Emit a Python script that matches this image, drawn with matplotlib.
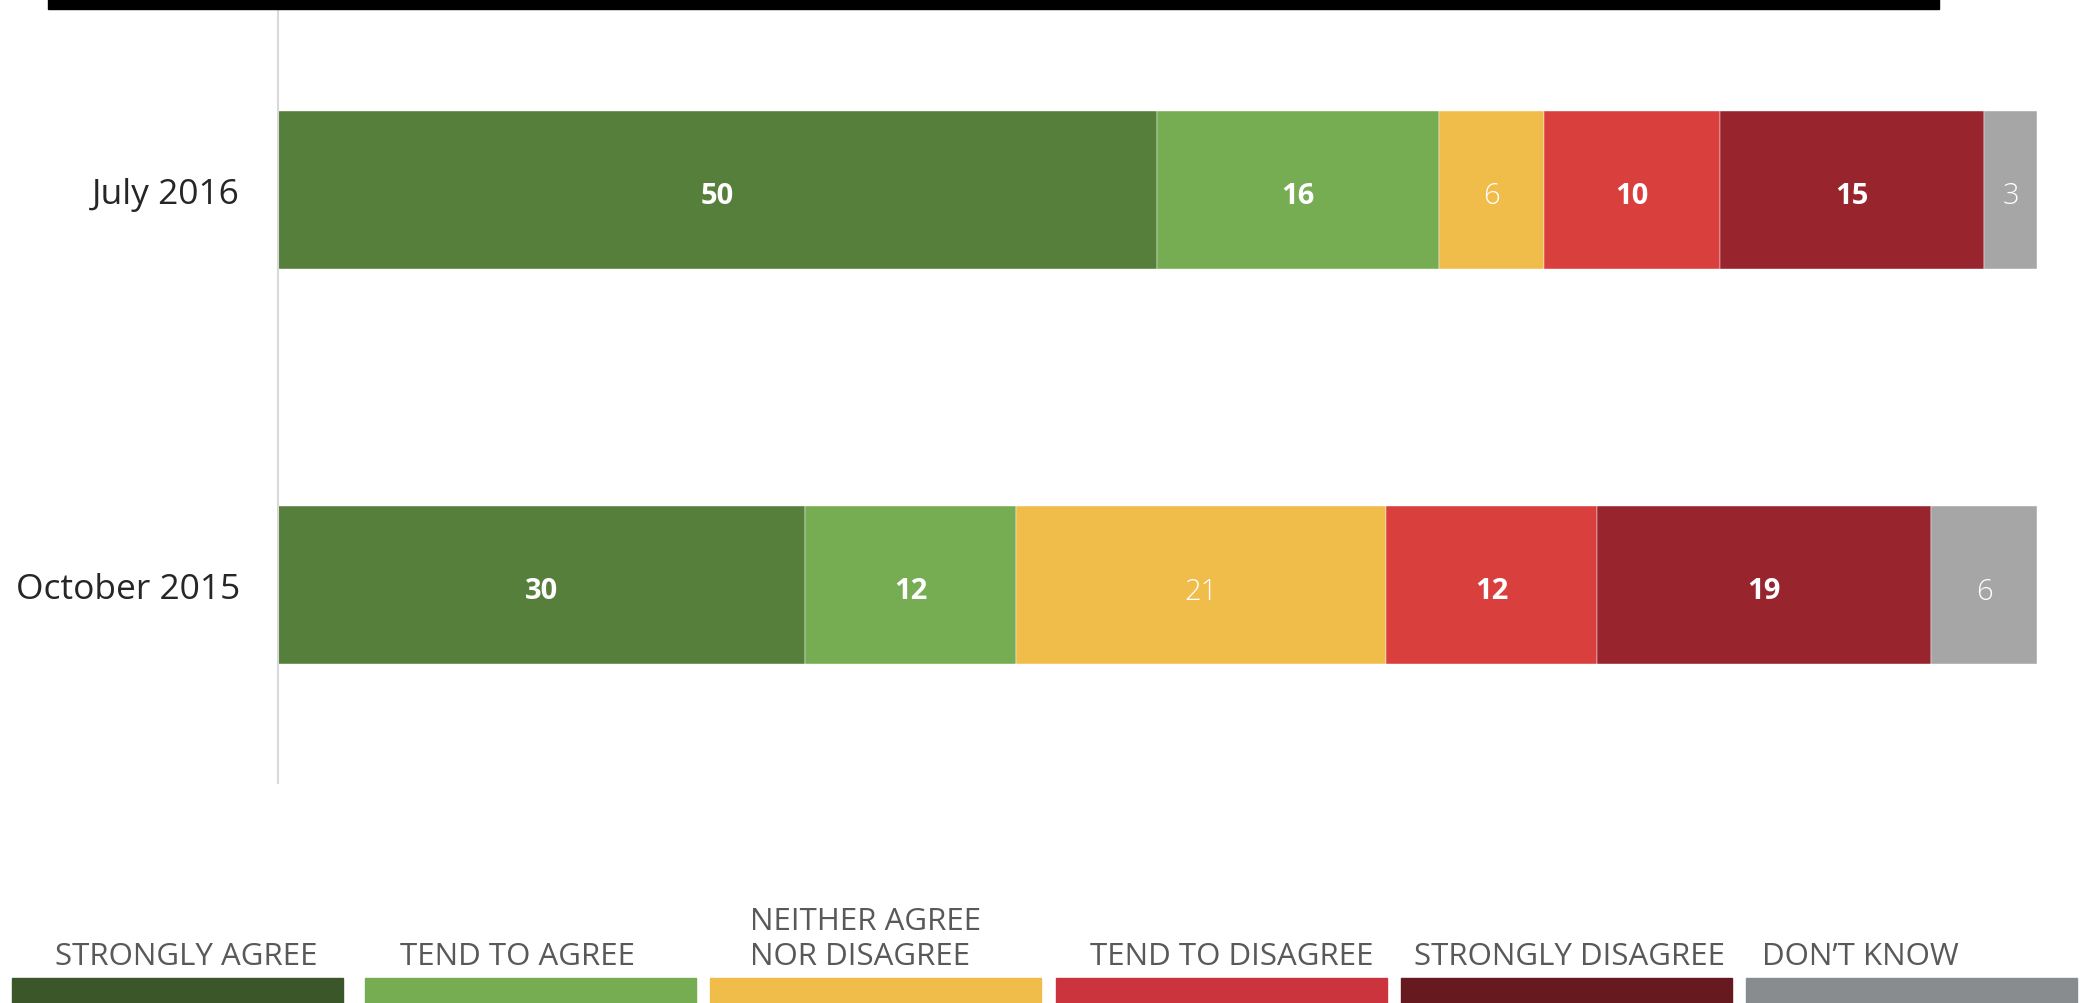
import numpy as np
import matplotlib.pyplot as plt
from matplotlib.patches import Rectangle

# Survey periods (bottom to top)
periods = ["October 2015", "July 2016"]

# Response categories and shares (%)
categories = ["STRONGLY AGREE", "TEND TO AGREE", "NEITHER AGREE\nNOR DISAGREE",
              "TEND TO DISAGREE", "STRONGLY DISAGREE", "DON\u2019T KNOW"]
strongly_agree = [30, 50]
tend_agree = [12, 16]
neither = [21, 6]
tend_disagree = [12, 10]
strongly_disagree = [19, 15]
dont_know = [6, 3]

bar_colors = ["#557f3b", "#76ac52", "#f0bd4a", "#d93f3d", "#98242e", "#a6a6a6"]
legend_colors = ["#3b5729", "#76ac52", "#f0bd4a", "#cb343c", "#66191e", "#898c8e"]
bold_label = [True, True, False, True, True, False]

W, H = 2082, 1004
fig = plt.figure(figsize=(W / 100, H / 100), dpi=100)
plt.rcParams['font.family'] = ['Open Sans', 'DejaVu Sans']

# cut-off black header band at the top
fig.patches.append(Rectangle((48 / W, 1 - 10 / H), (1939 - 48) / W, 10 / H,
                             transform=fig.transFigure, color="black", zorder=0))

ax = fig.add_axes([277.5 / W, 1 - 784 / H, (2037 - 277.5) / W, (784 - 9) / H])
ax.set_xlim(0, 100)
ax.set_ylim(-0.5, 1.46)
ax.patch.set_alpha(0)

series = [strongly_agree, tend_agree, neither, tend_disagree, strongly_disagree, dont_know]
y = np.arange(len(periods))
left = np.zeros(len(periods))
for vals, col, bold in zip(series, bar_colors, bold_label):
    vals = np.array(vals, dtype=float)
    ax.barh(y, vals, left=left, height=0.4, color=col, edgecolor="white", linewidth=0.3)
    for yi, v, l in zip(y, vals, left):
        ax.annotate("{:g}".format(v), (l + v / 2, yi), xytext=(0, -4),
                    textcoords="offset points", ha="center", va="center", color="white",
                    fontsize=21, fontweight="bold" if bold else "light")
    left += vals

for s in ["top", "right", "bottom"]:
    ax.spines[s].set_visible(False)
ax.spines["left"].set_color("#d9d9d9")
ax.spines["left"].set_linewidth(1.5)
ax.set_xticks([])
ax.set_yticks(y)
ax.set_yticklabels(periods, fontsize=25.5, color="#262626")
ax.tick_params(axis="y", length=0, pad=27)

# legend: coloured boxes at the bottom with labels above
box_x = [12, 365, 710, 1056, 1401, 1746]
box_w = 331
label_x = [186, 518, 750, 1232, 1569, 1762]
label_ha = ["center", "center", "left", "center", "center", "left"]
for bx, col, lab, lx, ha in zip(box_x, legend_colors, categories, label_x, label_ha):
    fig.patches.append(Rectangle((bx / W, 0), box_w / W, 25 / H,
                                 transform=fig.transFigure, color=col))
    fig.text(lx / W, 1 - 965 / H, lab, ha=ha, va="baseline", fontsize=22.5,
             color="#595959", linespacing=1.2)

fig.savefig("out.png", dpi=100)
